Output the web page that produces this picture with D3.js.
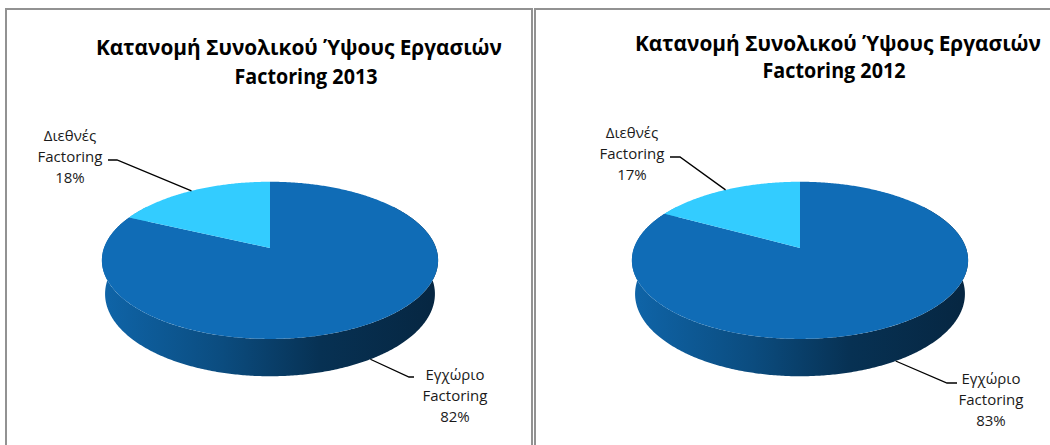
<!DOCTYPE html>
<html><head><meta charset="utf-8">
<script src="https://cdn.jsdelivr.net/npm/d3@7"></script>
<style>html,body{margin:0;padding:0;background:#fff;overflow:hidden}</style>
</head><body><svg id="c" width="1050" height="445"></svg>
<script>
// ---- data ----
const categories = ["Εγχώριο Factoring", "Διεθνές Factoring"];
const categoryLines = [["Εγχώριο", "Factoring"], ["Διεθνές", "Factoring"]];
const years = ["2013", "2012"];
const values2013 = [82, 18];
const values2012 = [83, 17];
const titleLine1 = "Κατανομή Συνολικού Ύψους Εργασιών";
const titleLine2Prefix = "Factoring";
const sliceColors = ["#106cb6", "#33ccff"];

// ---- layout ----
const panels = [
  { values: values2013, year: years[0], bx: 6, cx: 270, cy: 248,
    t1: [299, 55], t2: [306, 84],
    labels: [ {x: 455, y: 380, elbow: [409, 377], end: [414, 377]},
              {x: 70,  y: 141, elbow: [117, 160], end: [108, 160]} ] },
  { values: values2012, year: years[1], bx: 535, cx: 800, cy: 248,
    t1: [838, 51], t2: [834, 78],
    labels: [ {x: 991, y: 384, elbow: [947, 383], end: [957, 383]},
              {x: 632, y: 138, elbow: [680, 157], end: [670, 157]} ] }
];

const ALPHA = 27.5 * Math.PI / 180, DIST = 5.65, FOCAL = 938, THICK = 0.23;
function proj(cx, cy, phi, h, r = 1) {
  const X = r * Math.sin(phi), Z = r * Math.cos(phi);
  const depth = DIST - h * Math.sin(ALPHA) + Z * Math.cos(ALPHA);
  const up = h * Math.cos(ALPHA) + Z * Math.sin(ALPHA);
  return [cx + FOCAL * X / depth, cy - FOCAL * up / depth];
}

const svg = d3.select("#c");
const defs = svg.append("defs");
const pie = d3.pie().sort(null).value(d => d);
const pct = d3.format(".0%");
const FONT = "'Open Sans', 'Noto Sans', sans-serif";

panels.forEach((p, pi) => {
  const g = svg.append("g");
  g.append("rect").attr("x", p.bx).attr("y", 9).attr("width", 526).attr("height", 470)
    .attr("fill", "#fff").attr("stroke", "#929292").attr("stroke-width", 2);

  // titles
  g.append("text").attr("x", p.t1[0]).attr("y", p.t1[1]).attr("text-anchor", "middle")
    .attr("font-family", FONT).attr("font-weight", "bold").attr("font-size", 21)
    .attr("textLength", 406).attr("lengthAdjust", "spacingAndGlyphs").attr("fill", "#000")
    .text(titleLine1);
  g.append("text").attr("x", p.t2[0]).attr("y", p.t2[1]).attr("text-anchor", "middle")
    .attr("font-family", FONT).attr("font-weight", "bold").attr("font-size", 21)
    .attr("textLength", 143).attr("lengthAdjust", "spacingAndGlyphs").attr("fill", "#000")
    .text(titleLine2Prefix + " " + p.year);

  const arcs = pie(p.values);
  const total = d3.sum(p.values);

  // wall gradients
  arcs.forEach((a, i) => {
    const c = d3.color(sliceColors[i]);
    const gr = defs.append("linearGradient").attr("id", `wall${pi}_${i}`)
      .attr("gradientUnits", "userSpaceOnUse")
      .attr("x1", p.cx - 170).attr("x2", p.cx + 170).attr("y1", 0).attr("y2", 0);
    [[0, 0.2], [0.36, 1.0], [0.65, 2.2], [1, 2.9]].forEach(([o, k]) =>
      gr.append("stop").attr("offset", o).attr("stop-color", c.darker(k).formatHex()));
  });

  // walls (front half only)
  arcs.forEach((a, i) => {
    const s = Math.max(a.startAngle, 0.3 * Math.PI), e = Math.min(a.endAngle, 1.7 * Math.PI);
    if (e <= s) return;
    const n = Math.max(2, Math.ceil((e - s) / 0.01));
    const pts = [];
    for (let k = 0; k <= n; k++) pts.push(proj(p.cx, p.cy, s + (e - s) * k / n, 0));
    for (let k = n; k >= 0; k--) pts.push(proj(p.cx, p.cy, s + (e - s) * k / n, -THICK));
    g.append("path").attr("d", d3.line()(pts) + "Z").attr("fill", `url(#wall${pi}_${i})`);
  });

  // top faces
  arcs.forEach((a, i) => {
    const n = Math.max(2, Math.ceil((a.endAngle - a.startAngle) / 0.01));
    const pts = [[p.cx, p.cy]];
    for (let k = 0; k <= n; k++)
      pts.push(proj(p.cx, p.cy, a.startAngle + (a.endAngle - a.startAngle) * k / n, 0));
    g.append("path").attr("d", d3.line()(pts) + "Z").attr("fill", sliceColors[i]);
  });

  // labels & leader lines
  arcs.forEach((a, i) => {
    const L = p.labels[i];
    const mid = (a.startAngle + a.endAngle) / 2;
    const front = Math.cos(mid) < 0;
    const anchor = proj(p.cx, p.cy, mid, front ? -THICK : 0);
    g.append("path").attr("d", d3.line()([anchor, L.elbow, L.end]))
      .attr("fill", "none").attr("stroke", "#000").attr("stroke-width", 1.3);
    const lines = categoryLines[i].concat([pct(a.value / total)]);
    const t = g.append("text").attr("font-family", FONT).attr("font-size", 15)
      .attr("fill", "#1a1a1a").attr("text-anchor", "middle");
    lines.forEach((ln, j) => t.append("tspan").attr("x", L.x).attr("y", L.y + j * 21).text(ln));
  });
});
</script></body></html>
